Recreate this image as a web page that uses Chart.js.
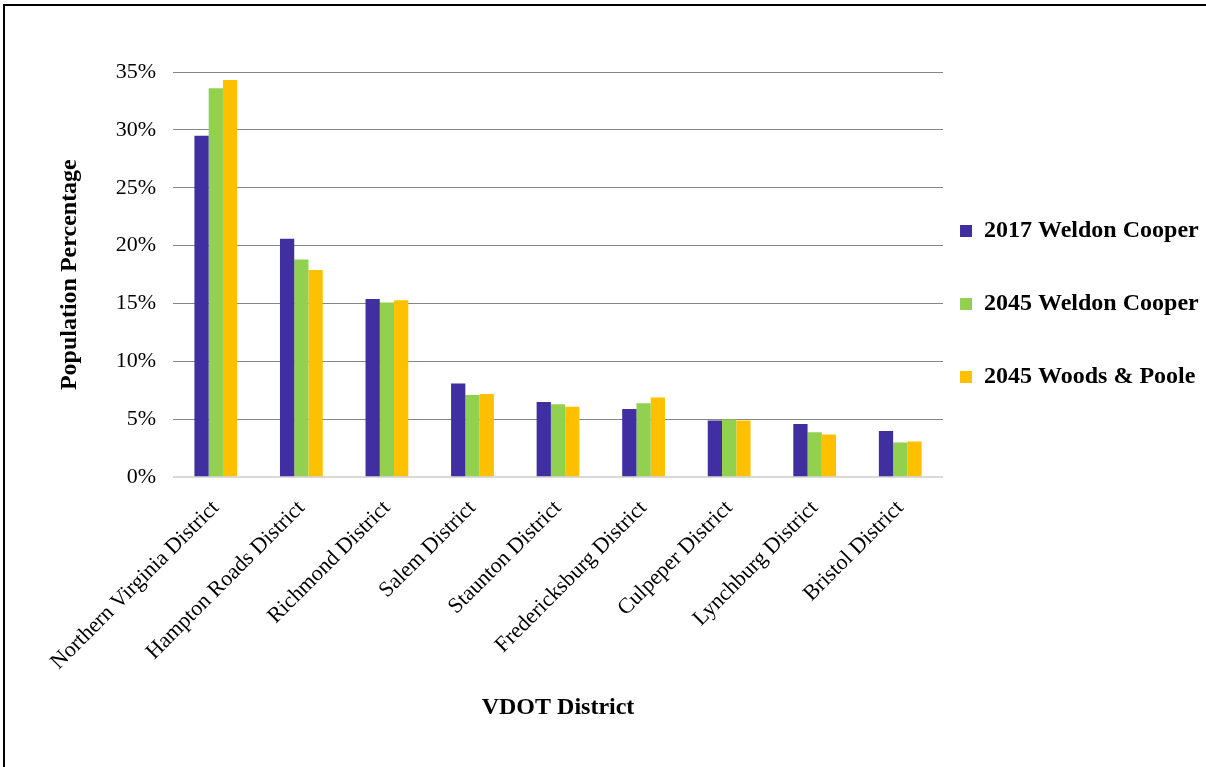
<!DOCTYPE html>
<html>
<head>
<meta charset="utf-8">
<script src="https://cdn.jsdelivr.net/npm/chart.js@4/dist/chart.umd.min.js"></script>
<style>
  html, body { margin: 0; padding: 0; background: #fff; }
  #wrap { position: absolute; left: 0; top: 0; width: 1206px; height: 767px; }
  #frame { position: absolute; left: 3px; top: 4px; width: 1210px; height: 770px;
           border-top: 2px solid #000; border-left: 2px solid #000; box-sizing: border-box; pointer-events: none; }
</style>
</head>
<body>
<div id="wrap"><canvas id="c" width="1206" height="767"></canvas></div>
<div id="frame"></div>
<script>
const categories = ['Northern Virginia District','Hampton Roads District','Richmond District','Salem District','Staunton District','Fredericksburg District','Culpeper District','Lynchburg District','Bristol District'];
const seriesNames = ['2017 Weldon Cooper','2045 Weldon Cooper','2045 Woods & Poole'];
const weldon2017 = [29.5, 20.6, 15.4, 8.1, 6.5, 5.9, 4.9, 4.6, 4.0];
const weldon2045 = [33.6, 18.8, 15.1, 7.1, 6.3, 6.4, 5.0, 3.9, 3.0];
const woods2045  = [34.3, 17.9, 15.3, 7.2, 6.1, 6.9, 4.9, 3.7, 3.1];
const yTickLabels = ['0%','5%','10%','15%','20%','25%','30%','35%'];
const colors = ['#3F2FA0', '#92D050', '#FFC000'];

const FONT = "'Liberation Serif', 'Times New Roman', serif";

const legendShift = {
  id: 'legendShift',
  afterLayout(chart) {
    const lg = chart.legend;
    if (!lg) return;
    const pad = lg.options.labels.padding;
    const dx = (chart.chartArea.right + 17 - pad) - lg.left;
    lg.left += dx; lg.right += dx;
    const h = lg.bottom - lg.top;
    const newTop = 231 - 12 - pad;
    lg.top = newTop; lg.bottom = newTop + h;
  }
};

new Chart(document.getElementById('c'), {
  type: 'bar',
  data: {
    labels: categories,
    datasets: [
      { label: seriesNames[0], data: weldon2017, backgroundColor: colors[0] },
      { label: seriesNames[1], data: weldon2045, backgroundColor: colors[1] },
      { label: seriesNames[2], data: woods2045, backgroundColor: colors[2] }
    ]
  },
  options: {
    responsive: false,
    animation: false,
    devicePixelRatio: 1,
    categoryPercentage: 0.5,
    barPercentage: 1.0,
    layout: { padding: { left: 24.3, top: 72, right: -34.7, bottom: 41 } },
    plugins: {
      legend: {
        position: 'right',
        align: 'start',
        labels: {
          boxWidth: 12, boxHeight: 12, padding: 49, color: '#000',
          font: { family: FONT, size: 24, weight: 'bold' }
        }
      },
      tooltip: { enabled: false }
    },
    scales: {
      x: {
        grid: { display: false, drawTicks: false },
        border: { display: false },
        ticks: {
          minRotation: 45, maxRotation: 45, padding: 18, color: '#000',
          font: { family: FONT, size: 22 }
        },
        title: {
          display: true, text: 'VDOT District', color: '#000',
          font: { family: FONT, size: 24, weight: 'bold' },
          padding: { top: 0, bottom: 4 }
        }
      },
      y: {
        min: 0, max: 35,
        grid: {
          drawTicks: false,
          color: (ctx) => ctx.tick && ctx.tick.value === 0 ? '#d9d9d9' : '#868686',
          lineWidth: (ctx) => ctx.tick && ctx.tick.value === 0 ? 2 : 1
        },
        border: { display: false },
        ticks: {
          stepSize: 5, padding: 17, color: '#000',
          font: { family: FONT, size: 22 },
          callback: (v, i) => yTickLabels[i]
        },
        title: {
          display: true, text: 'Population Percentage', color: '#000',
          font: { family: FONT, size: 24, weight: 'bold' },
          padding: { top: 31.3, bottom: 14.3 }
        }
      }
    }
  },
  plugins: [legendShift]
});
</script>
</body>
</html>
